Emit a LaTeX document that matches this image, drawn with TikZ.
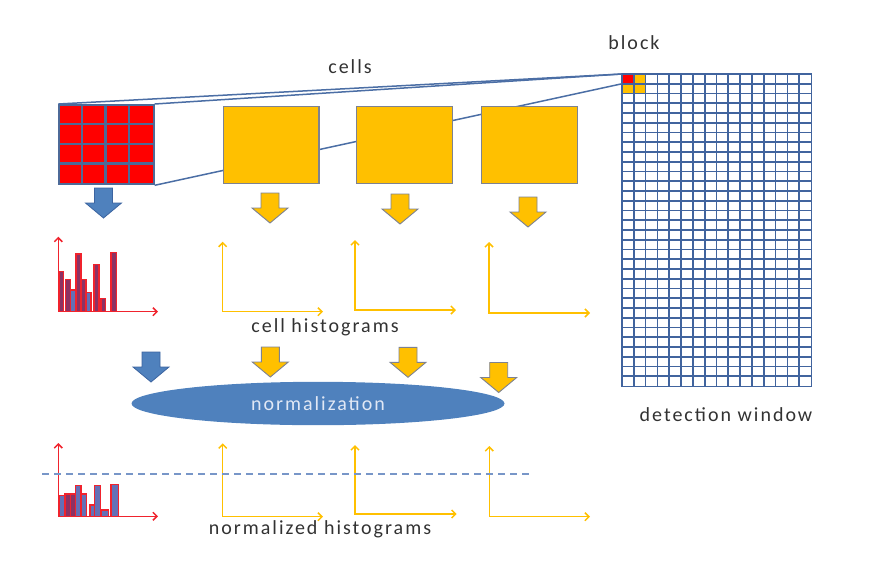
\documentclass[tikz,border=0pt]{standalone}
\usepackage{fontspec}
\setmainfont{Carlito}[LetterSpace=10]
\usetikzlibrary{shapes.geometric,arrows.meta}
\definecolor{hogblue}{RGB}{79,129,189}
\definecolor{hogblueD}{RGB}{60,100,160}
\definecolor{gold}{RGB}{255,192,0}
\definecolor{goldedge}{RGB}{125,130,145}
\definecolor{gridblue}{RGB}{65,100,158}
\definecolor{lineblue}{RGB}{75,110,165}
\definecolor{axred}{RGB}{240,35,45}
\definecolor{barpur}{RGB}{140,50,100}
\definecolor{barblu}{RGB}{100,112,182}
\definecolor{txt}{RGB}{50,50,50}
\definecolor{dashc}{RGB}{120,150,200}
\definecolor{ntext}{RGB}{225,232,245}
\tikzset{
  lbl/.style={font=\fontsize{20}{23}\selectfont, text=txt, inner sep=0pt},
  conn/.style={draw=lineblue, line width=1.5pt},
  goldsq/.style={draw=goldedge, fill=gold, line width=1.2pt, inner sep=0pt, minimum width=95.6pt, minimum height=76.7pt, anchor=north west},
  gridline/.style={draw=gridblue, line width=1.7pt},
  redax/.style={draw=axred, line width=1.5pt, {Straight Barb[length=4pt,width=8pt]}-{Straight Barb[length=4pt,width=8pt]}},
  yelax/.style={draw=gold, line width=1.5pt, {Straight Barb[length=4pt,width=8pt]}-{Straight Barb[length=4pt,width=8pt]}},
  bar/.style={draw=axred, line width=1.2pt},
  bluearr/.style={fill=hogblue, draw=hogblueD, line width=0.8pt},
  goldarr/.style={fill=gold, draw=goldedge, line width=0.9pt},
  darrow/.pic={\path[pic actions] (-9,0) -- (9,0) -- (9,15) -- (18,15) -- (0,30) -- (-18,15) -- (-9,15) -- cycle;}
}
\begin{document}
\begin{tikzpicture}[x=1pt,y=-1pt]
\useasboundingbox (0,0) rectangle (878,568);
% red 4x4 cell grid
\node[draw=gridblue!80!gray, fill=red, line width=2pt, inner sep=0pt, minimum width=94.4pt, minimum height=79.3pt, anchor=north west] (rg) at (58.3,104) {};
\foreach \i in {1,2,3} {
  \draw[draw=gridblue!80!gray, line width=2.2pt] (58.3+23.6*\i,104) -- (58.3+23.6*\i,183.3);
  \draw[draw=gridblue!80!gray, line width=2.2pt] (58.3,104+19.83*\i) -- (152.7,104+19.83*\i);
}
% detection window
\node[inner sep=0pt, minimum width=189pt, minimum height=312pt, anchor=north west] (dw) at (622,74) {};
\fill[red] (622,74) rectangle (633.81,83.75);
\fill[gold] (633.81,74) rectangle (645.62,83.75);
\fill[gold] (622,83.75) rectangle (645.62,93.5);
\foreach \i in {1,...,15} \draw[gridline] (622+11.8125*\i,74) -- (622+11.8125*\i,386);
\foreach \j in {1,...,31} \draw[gridline] (622,74+9.75*\j) -- (811,74+9.75*\j);
\draw[gridline] (dw.north west) rectangle (dw.south east);
\coordinate (blk) at (622,83.75);
% connector lines (behind the gold cells)
\draw[conn] (dw.north west) -- (rg.north west);
\draw[conn] (dw.north west) -- (rg.north east);
\draw[conn] (blk) -- (rg.south east);
% gold cells
\node[goldsq] (c1) at (222.7,106) {};
\node[goldsq] (c2) at (356,106) {};
\node[goldsq] (c3) at (481,106) {};
% labels
\node[lbl] (lcells) at (350,67) {cells};
\node[lbl] (lblock) at (634,43) {block};
\node[lbl] (lch) at (325,327) {cell histograms};
\node[lbl] (ldw) at (726,415) {detection window};
\node[lbl] (lnh) at (320,529) {normalized histograms};
% down arrows, row 1
\pic[bluearr] (a0) at (103.5,188) {darrow};
\pic[goldarr] (a1) at (270,193) {darrow};
\pic[goldarr] (a2) at (400,194) {darrow};
\pic[goldarr] (a3) at (528,197) {darrow};
% top histograms
\foreach \l/\r/\t/\c in {59/63.3/271.7/barpur, 65.7/70.7/279.3/barpur, 70.7/76/290/barblu, 76/81/254/barpur, 81/86/279.3/barpur, 86/91/292.7/barblu, 94/99/264.3/barpur, 101/105.7/298.3/barpur, 111/116.7/252.3/barpur}
  \draw[bar, fill=\c] (\l,311.7) rectangle (\r,\t);
\draw[redax] (58.3,236.7) -- (58.3,311.7) -- (158,311.7);
\draw[yelax] (222.7,241.7) -- (222.7,311.7) -- (323,311.7);
\draw[yelax] (355,240) -- (355,310) -- (456,310);
\draw[yelax] (489,242) -- (489,313) -- (590,313);
% down arrows, row 2
\pic[bluearr] (b0) at (151,352) {darrow};
\pic[goldarr] (b1) at (270.3,347) {darrow};
\pic[goldarr] (b2) at (408,347.3) {darrow};
\pic[goldarr] (b3) at (498.7,362.5) {darrow};
% normalization
\node[ellipse, fill=hogblue, minimum width=373pt, minimum height=43.4pt, inner sep=0pt, text=ntext, font=\fontsize{20}{23}\selectfont] (norm) at (318,403.5) {normalization};
% bottom histograms
\foreach \l/\r/\t/\c in {59/65/495.7/barblu, 65/70.7/494/barpur, 70.7/75.7/494/barpur, 75.7/81/485.7/barblu, 81/86.7/494/barblu, 90/94.3/505/barblu, 94.3/100.7/485.7/barblu, 101.7/108.3/510/barblu, 111/118.3/484.3/barblu}
  \draw[bar, fill=\c] (\l,516.3) rectangle (\r,\t);
\draw[redax] (58.3,443) -- (58.3,516.3) -- (158,516.3);
\draw[yelax] (222.7,443.3) -- (222.7,516.7) -- (323,516.7);
\draw[yelax] (355,445) -- (355,514) -- (456.7,514);
\draw[yelax] (489.3,446) -- (489.3,516.7) -- (590,516.7);
\draw[draw=dashc, line width=1.5pt, dash pattern=on 7pt off 5pt] (42,474) -- (530,474);
\end{tikzpicture}
\end{document}
